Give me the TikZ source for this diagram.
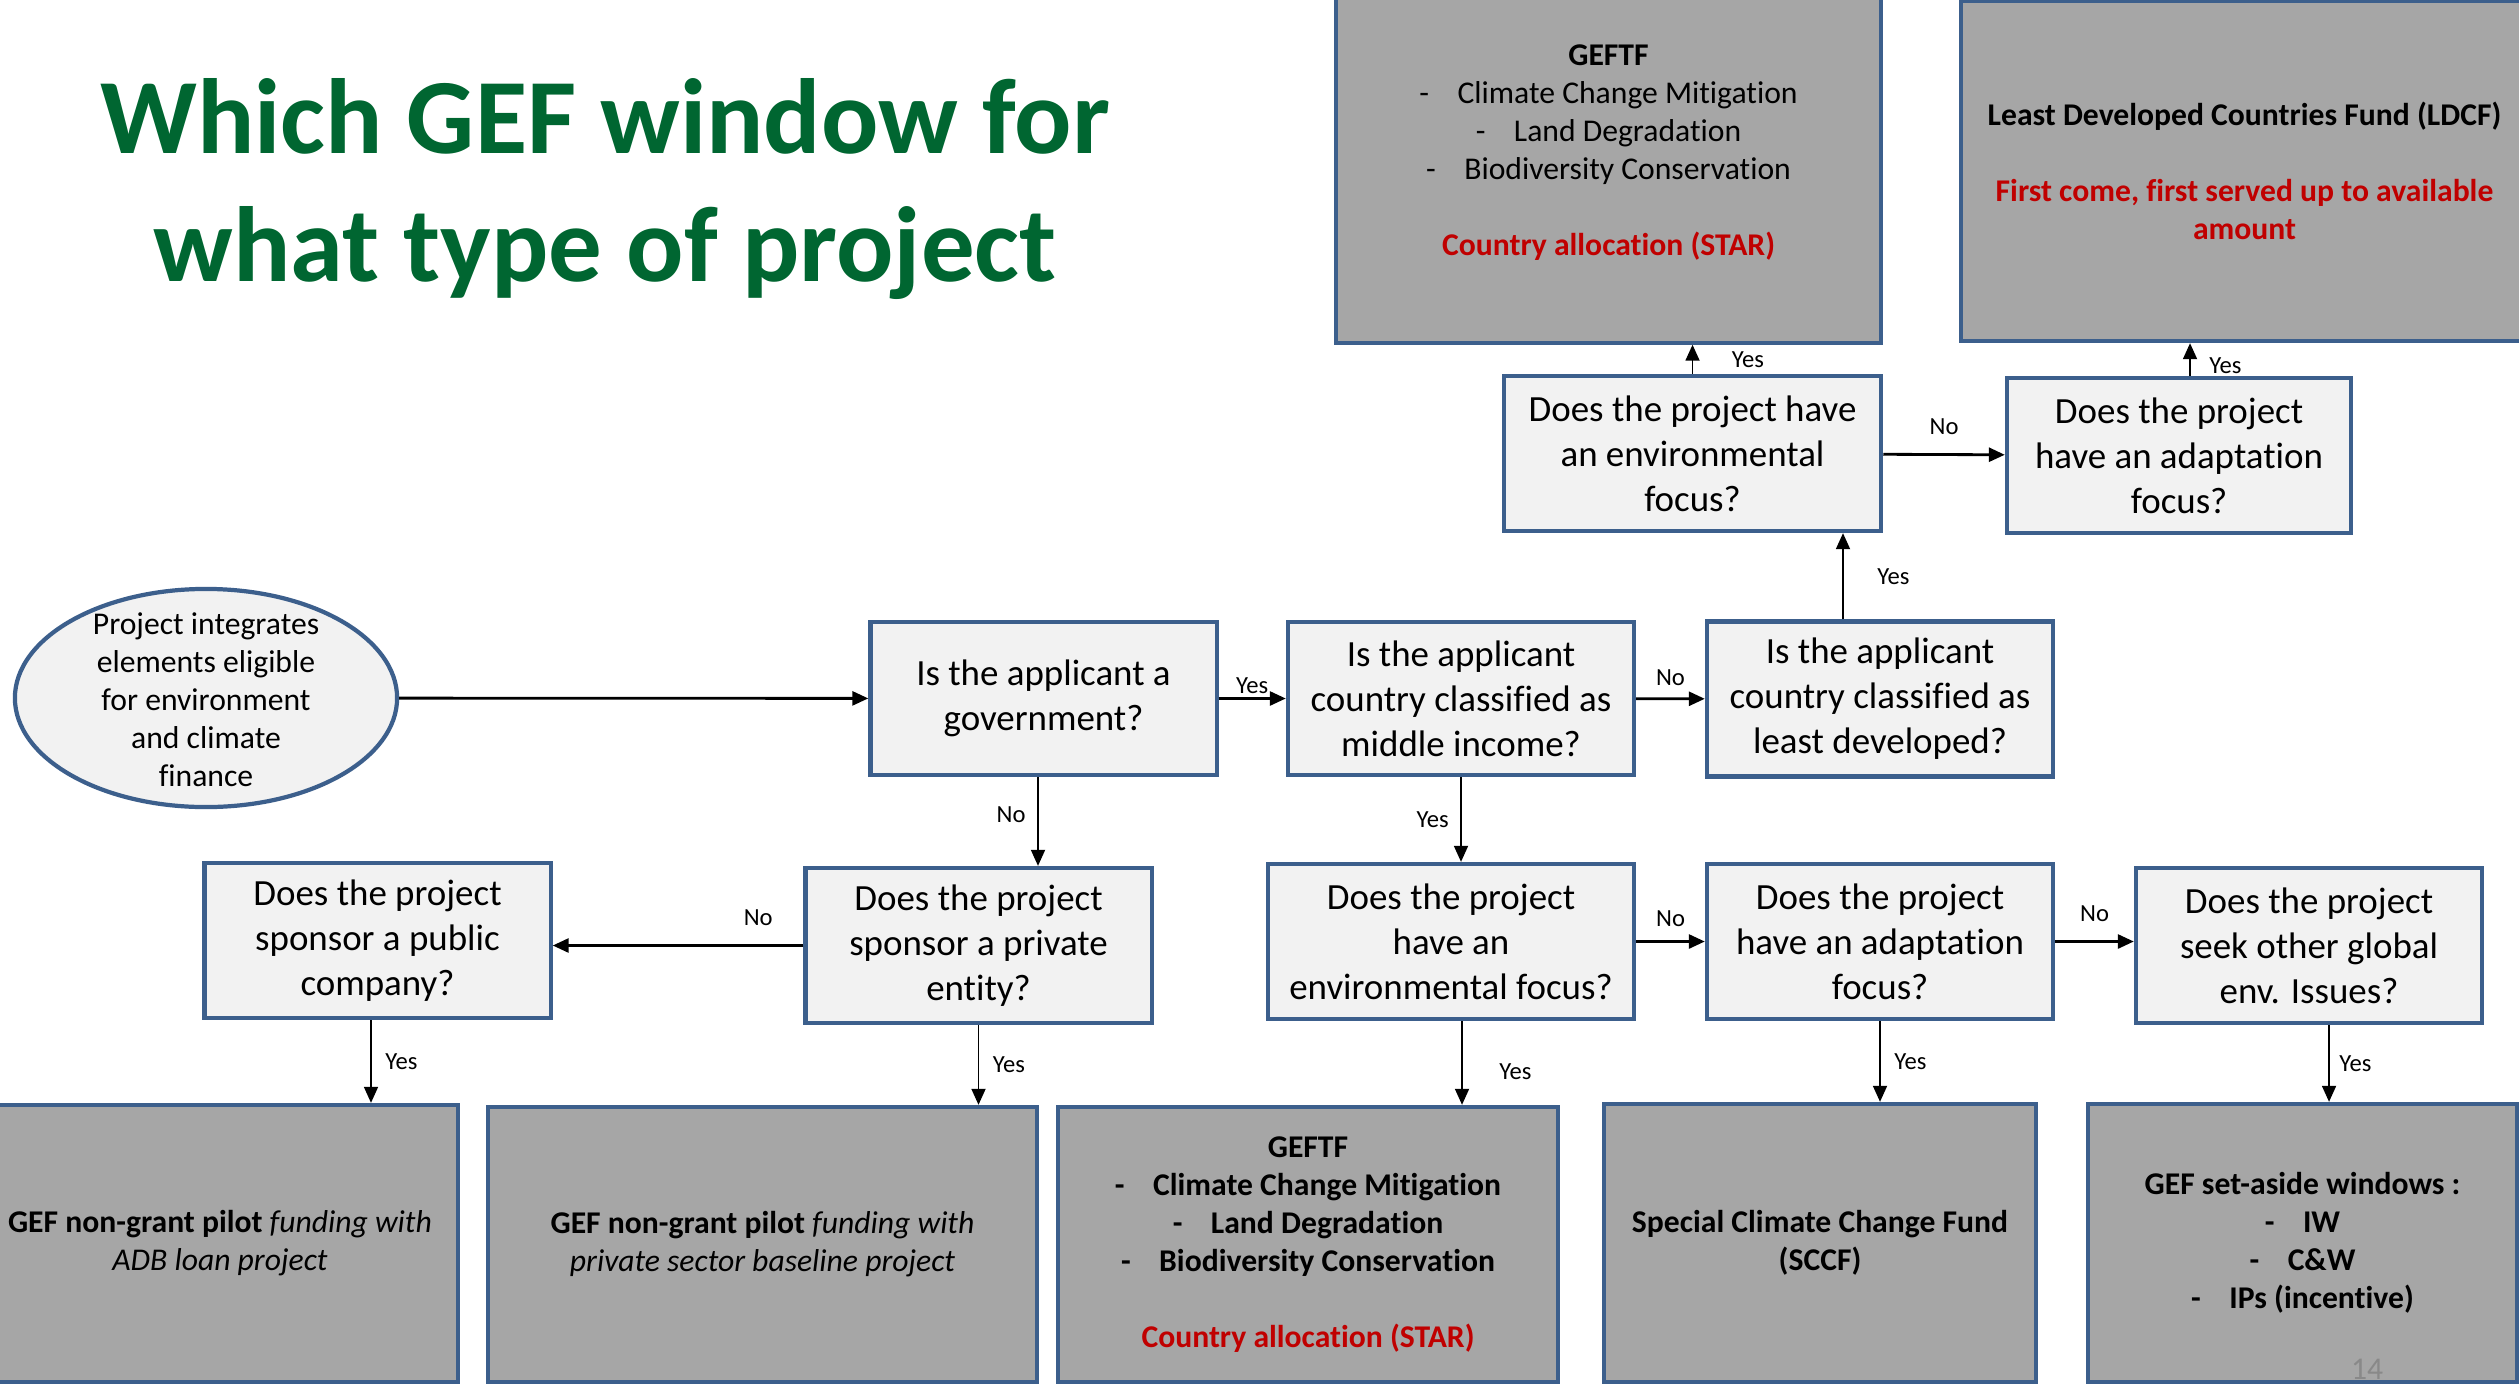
\documentclass[tikz,border=0pt]{standalone}
\usepackage{fontspec}
\setmainfont{Carlito}[Ligatures=NoCommon]
\usepackage{tikz}
\usetikzlibrary{positioning,calc,arrows.meta,shapes.geometric}
\tikzset{>={Triangle[length=0.16cm,width=0.14cm]}}
\definecolor{boxblue}{RGB}{60,95,140}
\definecolor{qgrey}{RGB}{242,242,242}
\definecolor{ogrey}{RGB}{166,166,166}
\definecolor{gefred}{RGB}{192,0,0}
\definecolor{titlegreen}{RGB}{0,102,49}
\definecolor{pagegrey}{RGB}{137,137,137}
\tikzset{
  qbox/.style={draw=boxblue,fill=qgrey,line width=1.2pt,minimum width=3.46cm,minimum height=1.55cm,inner sep=0pt,align=center,font=\fontsize{10.5}{12.8}\selectfont},
  obox/.style={draw=boxblue,fill=ogrey,line width=1.2pt,inner sep=0pt,align=center,font=\fontsize{9}{10.8}\selectfont},
  lbl/.style={font=\fontsize{7}{8}\selectfont,inner sep=1pt},
  arr/.style={->,line width=0.5pt},
  tarr/.style={->,line width=0.8pt},
  ttl/.style={font=\fontsize{30.4}{37}\selectfont\bfseries,text=titlegreen,anchor=base}
}
\newcommand{\gefitem}[1]{-\hspace{0.9em}#1}

\begin{document}
\begin{tikzpicture}[x=0.01cm,y=-0.01cm]
\useasboundingbox (0,0) rectangle (2519,1385);
\fill[white] (0,0) rectangle (2519,1385);

\node[ttl] (Title) at (605,154) {Which GEF window for};
\node[ttl] (TitleB) at (605,281) {what type of project};

% outcomes
\node[obox,minimum width=5.45cm,minimum height=3.79cm] (GefT) at (1608.5,153) {\textbf{GEFTF}\\ \gefitem{Climate Change Mitigation}\\ \gefitem{Land Degradation}\\ \gefitem{Biodiversity Conservation}\\[10.8pt] \textcolor{gefred}{\textbf{Country allocation (STAR)}}};
\node[obox,minimum width=5.67cm,minimum height=3.40cm] (Ldcf) at (2244.5,171) {\textbf{Least Developed Countries Fund (LDCF)}\\[10.8pt] \textcolor{gefred}{\textbf{First come, first served up to available}}\\ \textcolor{gefred}{\textbf{amount}}};
\node[obox,minimum width=4.76cm,minimum height=2.77cm] (Adb) at (220,1243.5) {\textbf{GEF non-grant pilot} \textit{funding with}\\ \textit{ADB loan project}};
\node[obox,minimum width=5.49cm,minimum height=2.75cm] (Pvt) at (762.5,1244.5) {\textbf{GEF non-grant pilot} \textit{funding with}\\ \textit{private sector baseline project}};
\node[obox,minimum width=5.00cm,minimum height=2.75cm,font=\fontsize{9}{10.8}\selectfont\bfseries] (GefB) at (1308,1244.5) {GEFTF\\ \gefitem{Climate Change Mitigation}\\ \gefitem{Land Degradation}\\ \gefitem{Biodiversity Conservation}\\[10.8pt] \textcolor{gefred}{Country allocation (STAR)}};
\node[obox,minimum width=4.32cm,minimum height=2.78cm,font=\fontsize{9}{10.8}\selectfont\bfseries] (Sccf) at (1820,1243) {Special Climate Change Fund\\(SCCF)};
\node[obox,minimum width=4.29cm,minimum height=2.78cm,font=\fontsize{9}{10.8}\selectfont\bfseries] (Set) at (2302.5,1243) {GEF set-aside windows :\\ \gefitem{IW}\\ \gefitem{C\&W}\\ \gefitem{IPs (incentive)}};
\node[font=\fontsize{9}{10}\selectfont,text=pagegrey,anchor=base] (PageNo) at (2367,1379) {14};

% start
\node[draw=boxblue,fill=qgrey,line width=1.2pt,ellipse,minimum width=3.82cm,minimum height=2.18cm] (Start) at (206,698) {};
\node[align=center,font=\fontsize{9}{10.8}\selectfont] (StartTxt) at (206,700) {Project integrates\\elements eligible\\for environment\\and climate\\finance};

% questions
\node[qbox,minimum width=3.77cm] (EnvT) at (1692.5,453.5) {Does the project have\\an environmental\\focus?};
\node[qbox,minimum width=3.44cm] (AdaT) at (2179,455.5) {Does the project\\have an adaptation\\focus?};
\node[qbox,minimum height=1.53cm] (Gov) at (1043.5,698.5) {Is the applicant a\\government?};
\node[qbox,minimum height=1.53cm] (Mid) at (1461,698.5) {Is the applicant\\country classified as\\middle income?};
\node[qbox] (Least) at (1880,699) {Is the applicant\\country classified as\\least developed?};
\node[qbox] (Pub) at (377.5,940.5) {Does the project\\sponsor a public\\company?};
\node[qbox] (Priv) at (978.5,945.5) {Does the project\\sponsor a private\\entity?};
\node[qbox,minimum width=3.66cm] (EnvB) at (1451,941.5) {Does the project\\have an\\environmental focus?};
\node[qbox] (AdaB) at (1880,941.5) {Does the project\\have an adaptation\\focus?};
\node[qbox] (Oth) at (2309,945.5) {Does the project\\seek other global\\env. Issues?};

% connectors
\draw[tarr] (Start) -- (Gov);
\draw[tarr] (Gov) -- node[lbl,above] {Yes} (Mid);
\draw[tarr] (Mid) -- node[lbl,above=0.08cm] {No} (Least);
\draw[arr] ([xshift=-0.37cm]Least.north) -- node[lbl,right=0.3cm] {Yes} ([xshift=-0.37cm]Least.north |- EnvT.south);
\draw[arr] (EnvT.north) -- node[lbl,right=0.35cm] {Yes} (EnvT.north |- GefT.south);
\draw[tarr] (EnvT) -- node[lbl,above=0.15cm] {No} (AdaT);
\draw[arr] ([xshift=0.11cm]AdaT.north) -- node[lbl,right=0.15cm,pos=0.3] {Yes} ([xshift=0.11cm]AdaT.north |- Ldcf.south);
\draw[arr] ([xshift=-0.055cm]Gov.south) -- node[lbl,left=0.08cm,pos=0.42] {No} ([xshift=-0.055cm]Gov.south |- Priv.north);
\draw[tarr] (Priv.west) -- node[lbl,above=0.15cm,pos=0.18] {No} (Priv.west -| Pub.east);
\draw[arr] ([xshift=-0.065cm]Pub.south) -- node[lbl,right=0.1cm] {Yes} ([xshift=-0.065cm]Pub.south |- Adb.north);
\draw[arr] (Priv.south) -- node[lbl,right=0.1cm] {Yes} (Priv.south |- Pvt.north);
\draw[arr] (Mid.south) -- node[lbl,left=0.08cm] {Yes} (Mid.south |- EnvB.north);
\draw[tarr] (EnvB) -- node[lbl,above=0.1cm] {No} (AdaB);
\draw[tarr] (AdaB.east) -- node[lbl,above=0.15cm] {No} (AdaB.east -| Oth.west);
\draw[arr] ([xshift=0.11cm]EnvB.south) -- node[lbl,right=0.33cm,pos=0.6] {Yes} ([xshift=0.11cm]EnvB.south |- GefB.north);
\draw[arr] (AdaB.south) -- node[lbl,right=0.1cm] {Yes} (AdaB.south |- Sccf.north);
\draw[arr] ([xshift=0.2cm]Oth.south) -- node[lbl,right=0.06cm] {Yes} ([xshift=0.2cm]Oth.south |- Set.north);
\end{tikzpicture}
\end{document}
